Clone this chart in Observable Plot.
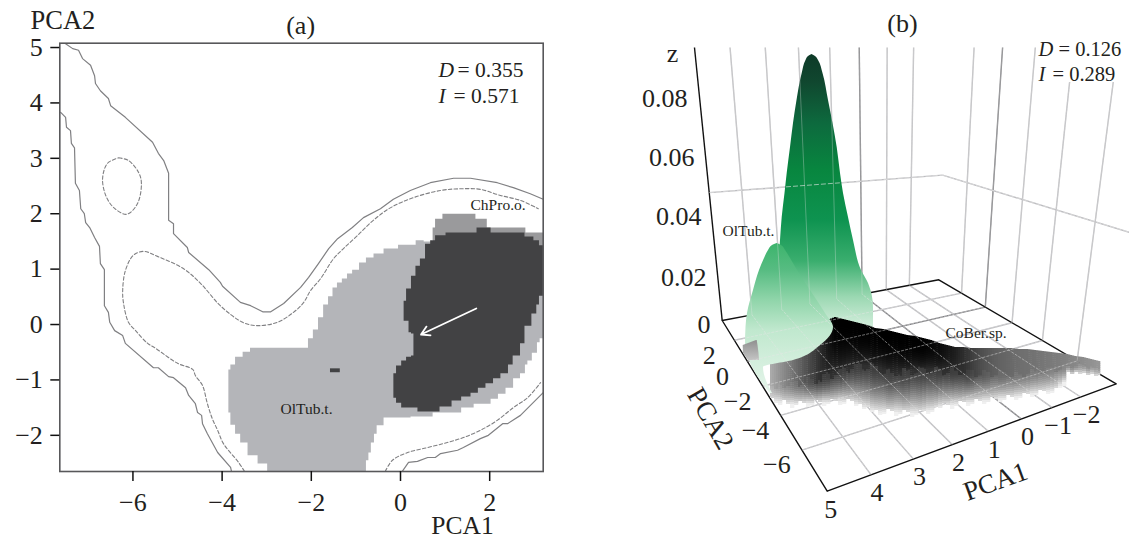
<!DOCTYPE html>
<html><head><meta charset="utf-8">
<script src="https://cdn.jsdelivr.net/npm/d3@7"></script>
<script src="https://cdn.jsdelivr.net/npm/@observablehq/plot@0.6"></script>
<style>
html,body{margin:0;padding:0;background:#fff;width:1129px;height:540px;overflow:hidden}
#a,#b{position:absolute;top:0}
#a{left:0}#b{left:570px}
svg{display:block;background:transparent!important}
</style></head><body>
<svg width="0" height="0" style="position:absolute"><defs>
<linearGradient id="gBig" x1="0" y1="0" x2="0" y2="1">
<stop offset="0" stop-color="#0e3a28"/><stop offset="0.1" stop-color="#10472f"/><stop offset="0.25" stop-color="#0d6a3e"/>
<stop offset="0.42" stop-color="#08863f"/><stop offset="0.6" stop-color="#0e9350"/><stop offset="0.75" stop-color="#3aae6e"/>
<stop offset="0.88" stop-color="#9bd8b2"/><stop offset="1" stop-color="#d8f0e0"/></linearGradient>
<linearGradient id="gSmall" x1="0" y1="0" x2="0" y2="1">
<stop offset="0" stop-color="#3cb46c"/><stop offset="0.18" stop-color="#57bc82"/><stop offset="0.38" stop-color="#90d5aa"/>
<stop offset="0.58" stop-color="#c0e8ce"/><stop offset="1" stop-color="#e6f5eb"/></linearGradient>
<linearGradient id="gPatch" x1="0" y1="0" x2="0" y2="1">
<stop offset="0" stop-color="#8f8f8f"/><stop offset="1" stop-color="#c4c4c4"/></linearGradient>
</defs></svg>
<div id="a"></div><div id="b"></div>
<script>
const serif = "Liberation Serif";
const ink = "#231f20";

/* ---------- panel (a): values in PCA1 / PCA2 units ---------- */
const solidUpper = [[-7.51,5.07],[-7.35,4.98],[-7.22,4.95],[-7.13,4.80],[-6.95,4.68],[-6.86,4.49],[-6.84,4.35],[-6.73,4.22],[-6.55,4.08],[-6.50,3.95],[-6.17,3.74],[-5.56,3.29],[-5.43,3.09],[-5.31,2.96],[-5.20,2.73],[-5.20,1.88],[-5.09,1.82],[-5.09,1.64],[-4.78,1.39],[-4.75,1.30],[-4.30,0.99],[-4.04,0.76],[-3.99,0.69],[-3.59,0.40],[-3.36,0.34],[-3.09,0.23],[-2.91,0.23],[-2.62,0.38],[-2.24,0.67],[-2.06,0.85],[-1.84,1.10],[-1.61,1.37],[-1.41,1.55],[-1.08,1.75],[-0.83,1.93],[-0.45,2.09],[-0.16,2.26],[0.22,2.42],[0.67,2.56],[1.19,2.64],[1.57,2.64],[2.17,2.56],[2.53,2.47],[2.91,2.36],[3.20,2.26]];
const solidLeft = [[-7.62,3.83],[-7.51,3.74],[-7.49,3.56],[-7.40,3.50],[-7.38,3.27],[-7.31,3.19],[-7.29,2.55],[-7.20,2.42],[-7.17,2.09],[-7.09,2.00],[-7.06,1.84],[-6.97,1.75],[-6.86,1.57],[-6.75,1.41],[-6.73,1.10],[-6.64,0.99],[-6.64,0.34],[-6.55,0.22],[-6.52,0.04],[-6.41,-0.11],[-6.23,-0.20],[-6.17,-0.34],[-5.54,-0.78],[-5.43,-0.78],[-5.20,-0.94],[-5.09,-0.96],[-4.82,-1.14],[-4.75,-1.28],[-4.60,-1.43],[-4.55,-1.59],[-4.46,-1.64],[-4.44,-1.79],[-4.33,-1.97],[-4.10,-2.31],[-3.81,-2.58],[-3.79,-2.65]];
const solidRight = [[0.04,-2.65],[0.18,-2.49],[0.38,-2.47],[0.61,-2.40],[0.78,-2.40],[0.90,-2.33],[1.28,-2.27],[1.41,-2.22],[1.79,-2.06],[1.97,-2.00],[2.29,-1.79],[2.40,-1.79],[2.69,-1.64],[3.20,-1.23]];
const dashedOval = [[-6.32,3.01],[-6.10,2.96],[-5.87,2.74],[-5.81,2.55],[-5.90,2.18],[-6.14,1.99],[-6.43,2.11],[-6.61,2.33],[-6.68,2.64],[-6.57,2.91],[-6.32,3.01]];
const dashedMain = [[-3.50,-2.65],[-3.63,-2.49],[-3.97,-2.15],[-4.10,-1.91],[-4.22,-1.70],[-4.33,-1.43],[-4.44,-1.10],[-4.60,-0.92],[-4.66,-0.81],[-5.00,-0.70],[-5.49,-0.43],[-5.67,-0.34],[-5.94,-0.11],[-6.10,0.04],[-6.21,0.38],[-6.23,0.61],[-6.17,0.97],[-5.99,1.25],[-5.76,1.32],[-5.45,1.23],[-4.87,1.01],[-4.48,0.74],[-4.04,0.34],[-3.54,0.04],[-3.21,-0.02],[-2.76,0.04],[-2.40,0.22],[-2.17,0.40],[-2.02,0.61],[-1.79,0.83],[-1.50,1.19],[-1.28,1.37],[-0.96,1.61],[-0.61,1.88],[-0.22,2.11],[0.29,2.29],[0.90,2.42],[1.35,2.45],[1.79,2.44],[2.24,2.33],[2.69,2.24],[3.09,2.09]];
const dashedRight = [[-0.34,-2.65],[-0.18,-2.45],[0.16,-2.31],[0.61,-2.22],[1.05,-2.13],[1.41,-2.04],[1.79,-1.91],[2.17,-1.73],[2.53,-1.50],[2.85,-1.32],[3.14,-1.05]];
const nicheLight = [[.52,1.52],[.16,1.44],[-.27,1.37],[-.49,1.28],[-.72,1.21],[-.83,1.12],[-1.03,.99],[-1.14,.92],[-1.26,.83],[-1.37,.76],[-1.48,.67],[-1.57,.51],[-1.68,.36],[-1.79,.13],[-1.91,-.09],[-2.02,-.25],[-2.13,-.42],[-3.32,-.42],[-3.43,-.49],[-3.65,-.58],[-3.77,-.72],[-3.86,-.81],[-3.86,-1.59],[-3.77,-1.81],[-3.65,-1.97],[-3.54,-2.13],[-3.32,-2.36],[-3.09,-2.51],[-2.89,-2.65],[-.83,-2.65],[-.72,-2.45],[-.72,-2.31],[-.61,-2.13],[-.58,-1.97],[-.49,-1.82],[-.27,-1.68],[.72,-1.66],[.72,-1.59],[1.35,-1.59],[1.37,-1.50],[1.91,-1.43],[2.13,-1.34],[2.24,-1.25],[2.47,-1.14],[2.58,-.97],[2.78,-.88],[2.80,-.72],[2.89,-.65],[3.00,-.51],[3.12,-.32],[3.12,-.25],[3.2,-.25],[3.2,1.5],[.52,1.5]];
const nicheMid = [[.72,1.52],[.72,1.75],[.83,1.91],[1.05,2.0],[1.57,2.0],[1.79,1.91],[2.08,1.75],[2.8,1.75],[2.8,1.66],[3.2,1.66],[3.2,1.3],[1,1.3]];
const nicheDark = [[3.2,.52],[3.12,.52],[3.09,.36],[3.0,.2],[2.87,-.02],[2.69,-.34],[2.67,-.56],[2.56,-.56],[2.47,-.72],[2.35,-.88],[2.13,-.97],[2.02,-1.06],[1.79,-1.14],[1.68,-1.23],[1.46,-1.3],[1.26,-1.37],[1.03,-1.48],[.72,-1.57],[.38,-1.57],[.38,-1.5],[.07,-1.5],[-.04,-1.41],[-.16,-1.32],[-.16,-.88],[-.04,-.74],[.07,-.65],[.18,-.58],[.29,-.56],[.29,-.16],[.18,-.14],[.18,.07],[.07,.07],[.07,.43],[.18,.65],[.29,.88],[.38,1.06],[.49,1.19],[.61,1.46],[.72,1.52],[.83,1.61],[1.19,1.66],[1.68,1.66],[1.73,1.75],[2.02,1.75],[2.02,1.66],[2.69,1.66],[2.87,1.59],[3.09,1.52],[3.12,1.43],[3.2,1.43]];
const speck = [{x1:-1.57,x2:-1.35,y1:-.87,y2:-.8}];
const shift = [{x1:1.70,y1:.29,x2:.46,y2:-.18}];
const xTicksA = [-6,-4,-2,0,2];
const yTicksA = [-2,-1,0,1,2,3,4,5];
const fx = d=>d[0], fy = d=>d[1];

const a = Plot.plot({
  width:570,height:540,marginLeft:59.3,marginRight:27.3,marginTop:42.7,marginBottom:69,
  x:{domain:[-7.64,3.2],axis:null},
  y:{domain:[-2.653,5.078],axis:null},
  style:{fontFamily:serif,color:ink},
  marks:[
    Plot.line(nicheLight,{x:fx,y:fy,curve:"step",fill:"#b4b5b9",stroke:"none"}),
    Plot.line(nicheMid,{x:fx,y:fy,curve:"step",fill:"#9a9a9c",stroke:"none"}),
    Plot.line(nicheDark,{x:fx,y:fy,curve:"step",fill:"#424244",stroke:"none"}),
    Plot.rect(speck,{x1:"x1",x2:"x2",y1:"y1",y2:"y2",fill:"#424244"}),
    Plot.arrow(shift,{x1:"x1",y1:"y1",x2:"x2",y2:"y2",stroke:"#fff",strokeWidth:1.8,bend:0,headLength:8}),
    ...[solidUpper,solidLeft,solidRight].map(c=>Plot.line(c,{x:fx,y:fy,stroke:"#808083",strokeWidth:1.2})),
    ...[dashedOval,dashedMain,dashedRight].map(c=>Plot.line(c,{x:fx,y:fy,stroke:"#808083",strokeWidth:1.1,strokeDasharray:"3.5,2.2",curve:"catmull-rom"})),
    Plot.frame({stroke:"#58585a",strokeWidth:1.6}),
    Plot.axisX(xTicksA,{tickSize:10,tickPadding:11,fontSize:26,stroke:"#111",strokeWidth:1.5,label:null,fill:ink,tickFormat:"d"}),
    Plot.axisY(yTicksA,{tickSize:9,tickPadding:8,fontSize:26,stroke:"#111",strokeWidth:1.5,label:null,fill:ink,tickFormat:"d"}),
    Plot.text(["PCA2"],{x:-7.57,y:5.49,fontSize:26.5,fill:ink}),
    Plot.text(["PCA1"],{x:1.39,y:-3.63,fontSize:25.5,fill:ink}),
    Plot.text(["(a)"],{x:-2.24,y:5.4,fontSize:26,fill:ink}),
    Plot.text(["D"],{x:.85,y:4.6,textAnchor:"start",fontStyle:"italic",fontSize:21.5,fill:ink}),
    Plot.text(["= 0.355"],{x:1.28,y:4.6,textAnchor:"start",fontSize:21.5,fill:ink}),
    Plot.text(["I"],{x:.85,y:4.13,textAnchor:"start",fontStyle:"italic",fontSize:21.5,fill:ink}),
    Plot.text(["= 0.571"],{x:1.19,y:4.13,textAnchor:"start",fontSize:21.5,fill:ink}),
    Plot.text(["OlTub.t."],{x:-2.69,y:-1.53,textAnchor:"start",fontSize:15.5,fill:ink}),
    Plot.text(["ChPro.o."],{x:1.57,y:2.15,textAnchor:"start",fontSize:15.5,fill:ink,stroke:"#fff",strokeWidth:3})
  ]
});
document.getElementById("a").append(a);

/* ---------- panel (b): perspective box; PCA axes run through the projection ---------- */
const pca1Ticks = [4,3,2,1,0,-1,-2];
const pca1Labels = [5,4,3,2,1,0,-1,-2];
const pca2Ticks = [2,0,-2,-4,-6];
const pca1Range = [4.95,-3.35];
const pca2Range = [-7.95,4.15];
const zGrid = 0.05;
const zTickText = ["0.08","0.06","0.04","0.02","0"];
const zTickX = [687,694,701,706,710];
const zTickY = [98,157,216,277,324];

/* box corners on the picture plane */
const F=[826.7,490.7],R=[1115.7,383.3],B=[938.3,279.3],L=[721.7,320];
const VP=[880,1879], persp=1.516, topRow=47;
const dx1=R[0]-B[0],dx2=L[0]-B[0],sx=F[0]-R[0]+B[0]-L[0];
const dy1=R[1]-B[1],dy2=L[1]-B[1],sy=F[1]-R[1]+B[1]-L[1];
const den=dx1*dy2-dx2*dy1;
const g=(sx*dy2-dx2*sy)/den,h=(dx1*sy-sx*dy1)/den;
const Ha=R[0]-F[0]+g*R[0],Hb=L[0]-F[0]+h*L[0],Hc=F[0];
const Hd=R[1]-F[1]+g*R[1],He=L[1]-F[1]+h*L[1],Hf=F[1];
const wL=h+1;
function project(p1,p2,z=0){
  const s=(pca1Range[0]-p1)/(pca1Range[0]-pca1Range[1]);
  const t=(p2-pca2Range[0])/(pca2Range[1]-pca2Range[0]);
  const w=g*s+h*t+1;
  const X=(Ha*s+Hb*t+Hc)/w,Y=(Hd*s+He*t+Hf)/w;
  const k=1/(1-persp*z/(w/wL));
  return [VP[0]+(X-VP[0])*k,VP[1]+(Y-VP[1])*k];
}
function toTop(P){const k=(VP[1]-topRow)/(VP[1]-P[1]);return [VP[0]+(P[0]-VP[0])*k,topRow];}
const seg=(A,C,zero)=>({x1:A[0],y1:A[1],x2:C[0],y2:C[1],zero});
const [p1a,p1b]=pca1Range,[p2a,p2b]=pca2Range;
const floorLines=[
  ...pca1Ticks.map(v=>seg(project(v,p2a),project(v,p2b),v===0)),
  ...pca2Ticks.map(v=>seg(project(p1a,v),project(p1b,v),v===0))
];
const wallBases=[...pca1Ticks.map(v=>[project(v,p2b),v===0]),...pca2Ticks.map(v=>[project(p1b,v),v===0])];
const wallLines=wallBases.map(([P,zero])=>seg(P,toTop(P),zero));
const zWall=[project(p1a,p2b,zGrid),project(p1b,p2b,zGrid),project(p1b,p2a,zGrid)];
const zWallLines=[seg(zWall[0],zWall[1],false),seg(zWall[1],zWall[2],false)];
const box=[project(p1a,p2a),project(p1b,p2a),project(p1b,p2b),project(p1a,p2b),project(p1a,p2a)];
const zAxis=[seg(project(p1a,p2b),toTop(project(p1a,p2b)),false)];

/* silhouettes of the two OlTub.t. peaks on the picture plane */
const bigRow  =[54,56,60,73,100,123,147,173,193,217,240,270,283,307,320,330];
const bigLeft =[811.5,808,805.5,801.7,796.5,793,790,786.7,784.5,781.7,780,778,777,776,776,776];
const bigRight=[811.5,815,818,822.5,828,832.5,836.7,840,843,848,853,861,868,873,873,873];
const smallRow  =[243,245,250,258,270,290,313,327,345,360,367,393];
const smallLeft =[776.7,772,768,764,759,753,747,745.5,745,749,752,770];
const smallRight=[776.7,781,785,790,797,810,825,833,820,793,763,772];
const patchRow  =[340,345,353,360];
const patchLeft =[756,742.7,743,748];
const patchRight=[756.7,757.5,758.5,759];
/* CoBer.sp. surface: upper edge and top shade every 8 units, jagged rims every 4 */
const topX=[770,778,786,794,802,810,818,826,834,842,850,858,866,874,882,890,898,906,914,922,930,938,946,954,962,970,978,986,994,1002,1010,1018,1026,1034,1042,1050,1058,1066,1074,1082,1090,1098];
const colTop=[360,358,352,345,340,335,330,320,317,319,321,323,325,328,329,331,333,335,336,338,340,343,345,347,347,348,348,348,348,348,348,349,349,350,351,352,353,354,356,357,359,361];
const colShade=[170,150,130,110,90,70,50,20,0,0,0,0,0,0,0,0,0,0,0,0,5,10,20,30,45,60,75,85,95,100,105,110,112,115,118,122,125,130,135,140,145,150];
const rimX=d3.range(770,1102,4);
const colMid=[385,388,383,387,385,381,380,385,382,376,378,383,380,374,372,378,374,368,366,371,368,363,362,369,368,362,365,372,373,368,372,376,374,368,369,374,372,366,367,373,371,366,368,374,372,366,369,375,373,368,370,376,374,369,371,377,375,370,372,377,376,371,373,376,373,368,370,374,372,366,367,371,369,364,365,367,366,364,365,367,366,367,369];
const colBottom=[398,403,405,400,404,408,405,401,403,407,405,400,402,406,404,399,401,405,404,399,401,406,404,409,407,412,410,415,414,409,411,416,414,410,412,417,415,410,411,414,412,407,408,403,405,409,406,401,402,406,404,399,401,404,402,397,399,402,400,395,397,400,398,393,394,397,395,390,391,394,393,388,388,386,372,374,372,374,373,375,374,376,375];
const rows=(r,l,q)=>r.map((y,i)=>({y,l:l[i],r:q[i]}));
const cells=[];
const grey=v=>{const c=Math.max(0,Math.min(255,Math.round(v)));return `rgb(${c},${c},${c})`;};
const topAt=d3.scaleLinear(topX,colTop), shadeAt=d3.scaleLinear(topX,colShade);
const near=(arr,i)=>d3.mean(arr.slice(Math.max(0,i-2),i+3));
for(let x=770;x<1100;x+=2){
  const i=Math.min(rimX.length-1,Math.floor((x-770)/4));
  const t=topAt(x),m=colMid[i],b=colBottom[i],s=shadeAt(x);
  const tail=b<380;
  const mm=tail?m:near(colMid,i), bb=tail?b:near(colBottom,i);
  const n=Math.max(3,Math.round((b-t)/2));
  for(let j=0;j<n;j++){
    const y=t+(b-t)*j/n, y2=t+(b-t)*(j+1)/n+(j<n-1?.5:0);
    let v;
    if(y<m){
      const u=Math.min(1,(y-t)/(mm-t));
      v=s+(Math.max(s,48)-s)*Math.pow(u,2.4);
    }else{
      const u=Math.min(1,Math.max(0,(y-mm)/(bb-mm)));
      const lo=Math.max(s+8,62);
      v=lo+(240-lo)*Math.pow(u,1.5);
    }
    cells.push({x1:x,x2:x+2.3,y1:y,y2,c:grey(v)});
  }
}
const lineColor=d=>d.zero?"#7d7d80":"#bdbdc0";
const linkOpts=(w)=>({x1:"x1",y1:"y1",x2:"x2",y2:"y2",stroke:lineColor,strokeWidth:w});
const overlay=(dash,o)=>({x1:"x1",y1:"y1",x2:"x2",y2:"y2",stroke:"#e6e6e6",strokeWidth:.8,strokeDasharray:dash,strokeOpacity:o});

const b = Plot.plot({
  width:559,height:540,margin:0,
  x:{domain:[570,1129],range:[0,559],axis:null},
  y:{domain:[0,540],range:[0,540],axis:null},
  color:{type:"identity"},
  style:{fontFamily:serif,color:ink},
  marks:[
    Plot.link(wallLines,linkOpts(1.4)),
    Plot.link(zWallLines,{x1:"x1",y1:"y1",x2:"x2",y2:"y2",stroke:"#bdbdc0",strokeWidth:1.4}),
    Plot.link(floorLines,linkOpts(1.4)),
    Plot.line(box,{x:fx,y:fy,stroke:"#111",strokeWidth:1.4}),
    Plot.link(zAxis,{x1:"x1",y1:"y1",x2:"x2",y2:"y2",stroke:"#111",strokeWidth:1.4}),
    Plot.areaX(rows(bigRow,bigLeft,bigRight),{x1:"l",x2:"r",y:"y",fill:"url(#gBig)",curve:"monotone-y"}),
    Plot.rect(cells,{x1:"x1",x2:"x2",y1:"y1",y2:"y2",fill:"c",inset:0}),
    Plot.areaX(rows(smallRow,smallLeft,smallRight),{x1:"l",x2:"r",y:"y",fill:"url(#gSmall)",curve:"monotone-y"}),
    Plot.areaX(rows(patchRow,patchLeft,patchRight),{x1:"l",x2:"r",y:"y",fill:"url(#gPatch)"}),
    Plot.link(wallLines,overlay(null,.4)),
    Plot.link(zWallLines,overlay("5,2",.8)),
    Plot.link(floorLines,overlay("3,1.2",.6)),
    Plot.rect([{x1:1036,x2:1126,y1:40,y2:82}],{x1:"x1",x2:"x2",y1:"y1",y2:"y2",fill:"#fff"}),
    Plot.text(["(b)"],{x:902,y:23,fontSize:26,fill:ink}),
    Plot.text(["z"],{x:672,y:53,fontSize:26,fill:ink}),
    Plot.text(zTickText,{x:(d,i)=>zTickX[i],y:(d,i)=>zTickY[i],text:d=>d,textAnchor:"end",fontSize:26,fill:ink}),
    Plot.text(pca1Labels,{x:d=>project(d,p2a)[0]+6,y:d=>project(d,p2a)[1]+18,text:d=>d3.format("")(d),fontSize:26,fill:ink}),
    Plot.text(pca2Ticks,{x:d=>project(p1a,d)[0]-25,y:d=>project(p1a,d)[1]+15,text:d=>d3.format("")(d),fontSize:26,fill:ink}),
    Plot.text(["PCA2"],{x:710,y:418,rotate:60,fontSize:27,fill:ink}),
    Plot.text(["PCA1"],{x:995,y:481,rotate:-20,fontSize:27,fill:ink}),
    Plot.text(["D"],{x:1038,y:49,textAnchor:"start",fontStyle:"italic",fontSize:20.5,fill:ink}),
    Plot.text(["= 0.126"],{x:1058,y:49,textAnchor:"start",fontSize:20.5,fill:ink}),
    Plot.text(["I"],{x:1038,y:74,textAnchor:"start",fontStyle:"italic",fontSize:20.5,fill:ink}),
    Plot.text(["= 0.289"],{x:1052,y:74,textAnchor:"start",fontSize:20.5,fill:ink}),
    Plot.text(["OlTub.t."],{x:722,y:231,textAnchor:"start",fontSize:15.5,fill:ink}),
    Plot.text(["CoBer.sp."],{x:945,y:333,textAnchor:"start",fontSize:15.5,fill:ink})
  ]
});
document.getElementById("b").append(b);
</script>
</body></html>
